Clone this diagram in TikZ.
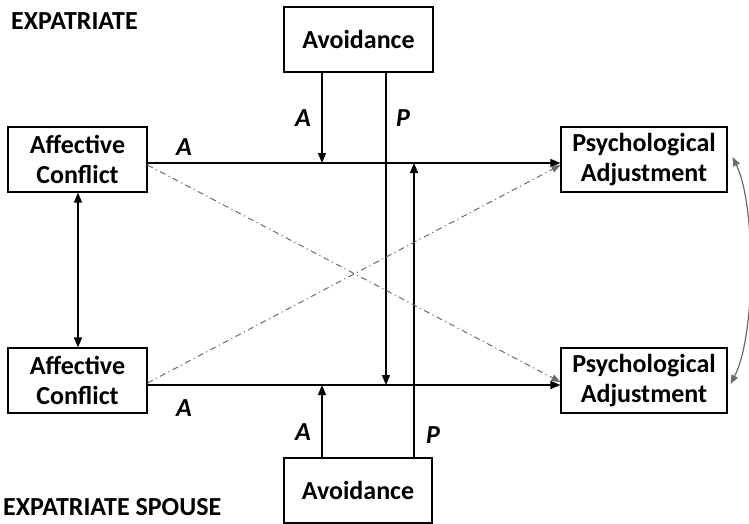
\documentclass[tikz,border=0pt]{standalone}
\usepackage{fontspec}
\setmainfont{Carlito}
\usetikzlibrary{arrows.meta}
\begin{document}
\begin{tikzpicture}[x=1pt,y=-1pt,
  box/.style={draw,line width=1.1pt,align=center,inner sep=0pt,minimum height=65pt,
    font=\fontsize{26}{30}\selectfont\bfseries},
  lbl/.style={font=\fontsize{26}{30}\selectfont\bfseries\itshape,inner sep=0pt},
  title/.style={font=\fontsize{26}{30}\selectfont\bfseries,inner sep=0pt,anchor=west},
  path/.style={line width=1.3pt,-{Triangle[length=10pt,width=8pt]}},
  cross/.style={line width=1pt,draw=black!58,dash pattern=on 6pt off 3.5pt on 1.2pt off 3.5pt,
    -{Triangle[length=9pt,width=7pt]}},
  link/.style={line width=1.2pt,draw=black!58,
    {Triangle[length=9pt,width=7pt]}-{Triangle[length=9pt,width=7pt]}}]
\useasboundingbox (0,0) rectangle (749,523);

% boxes
\node[box,minimum width=149pt] (avt) at (358.5,39.5) {Avoidance};
\node[box,minimum width=139pt] (act) at (77.5,159.5) {Affective\\Conflict};
\node[box,minimum width=166pt] (pat) at (644,159.5) {Psychological\\Adjustment};
\node[box,minimum width=139pt] (acb) at (77.5,380.5) {Affective\\Conflict};
\node[box,minimum width=166pt] (pab) at (644,380.5) {Psychological\\Adjustment};
\node[box,minimum width=148pt] (avb) at (358,490.5) {Avoidance};

% group titles
\node[title] (tex) at (11,21) {EXPATRIATE};
\node[title] (tsp) at (3,507) {EXPATRIATE SPOUSE};

% meeting points on the two main paths
\coordinate (mt1) at (322,163);
\coordinate (mt2) at (414,163);
\coordinate (mb1) at (322,385);
\coordinate (mb2) at (386,385);

% actor paths
\draw[path] (act.east |- mt1) -- (pat.west |- mt1);
\draw[path] (acb.east |- mb1) -- (pab.west |- mb1);

% avoidance moderators
\draw[path] (avt.south -| mt1) -- (mt1);
\draw[path] (avt.south -| mb2) -- (mb2);
\draw[path] (avb.north -| mb1) -- (mb1);
\draw[path] (avb.north -| mt2) -- (mt2);

% partner correlation between the conflicts
\draw[line width=1.3pt,{Triangle[length=10pt,width=8pt]}-{Triangle[length=10pt,width=8pt]}]
  (act.south -| 78,0) -- (acb.north -| 78,0);

% partner effects
\draw[cross] ([yshift=-5.5pt]act.east) -- ([yshift=-1.5pt]pab.west);
\draw[cross] ([yshift=-2.5pt]acb.east) -- ([yshift=-5.5pt]pat.west);

% correlation between the adjustments
\draw[link] ([xshift=5pt,yshift=2.5pt]pat.east) .. controls (756,205) and (756,335) .. ([xshift=3pt,yshift=-3.5pt]pab.east);

% path labels
\node[lbl] (la1) at (184,147) {A};
\node[lbl] (la2) at (303,118) {A};
\node[lbl] (lp1) at (403,118) {P};
\node[lbl] (la3) at (184,408) {A};
\node[lbl] (la4) at (303,432) {A};
\node[lbl] (lp2) at (433,435) {P};
\end{tikzpicture}
\end{document}
